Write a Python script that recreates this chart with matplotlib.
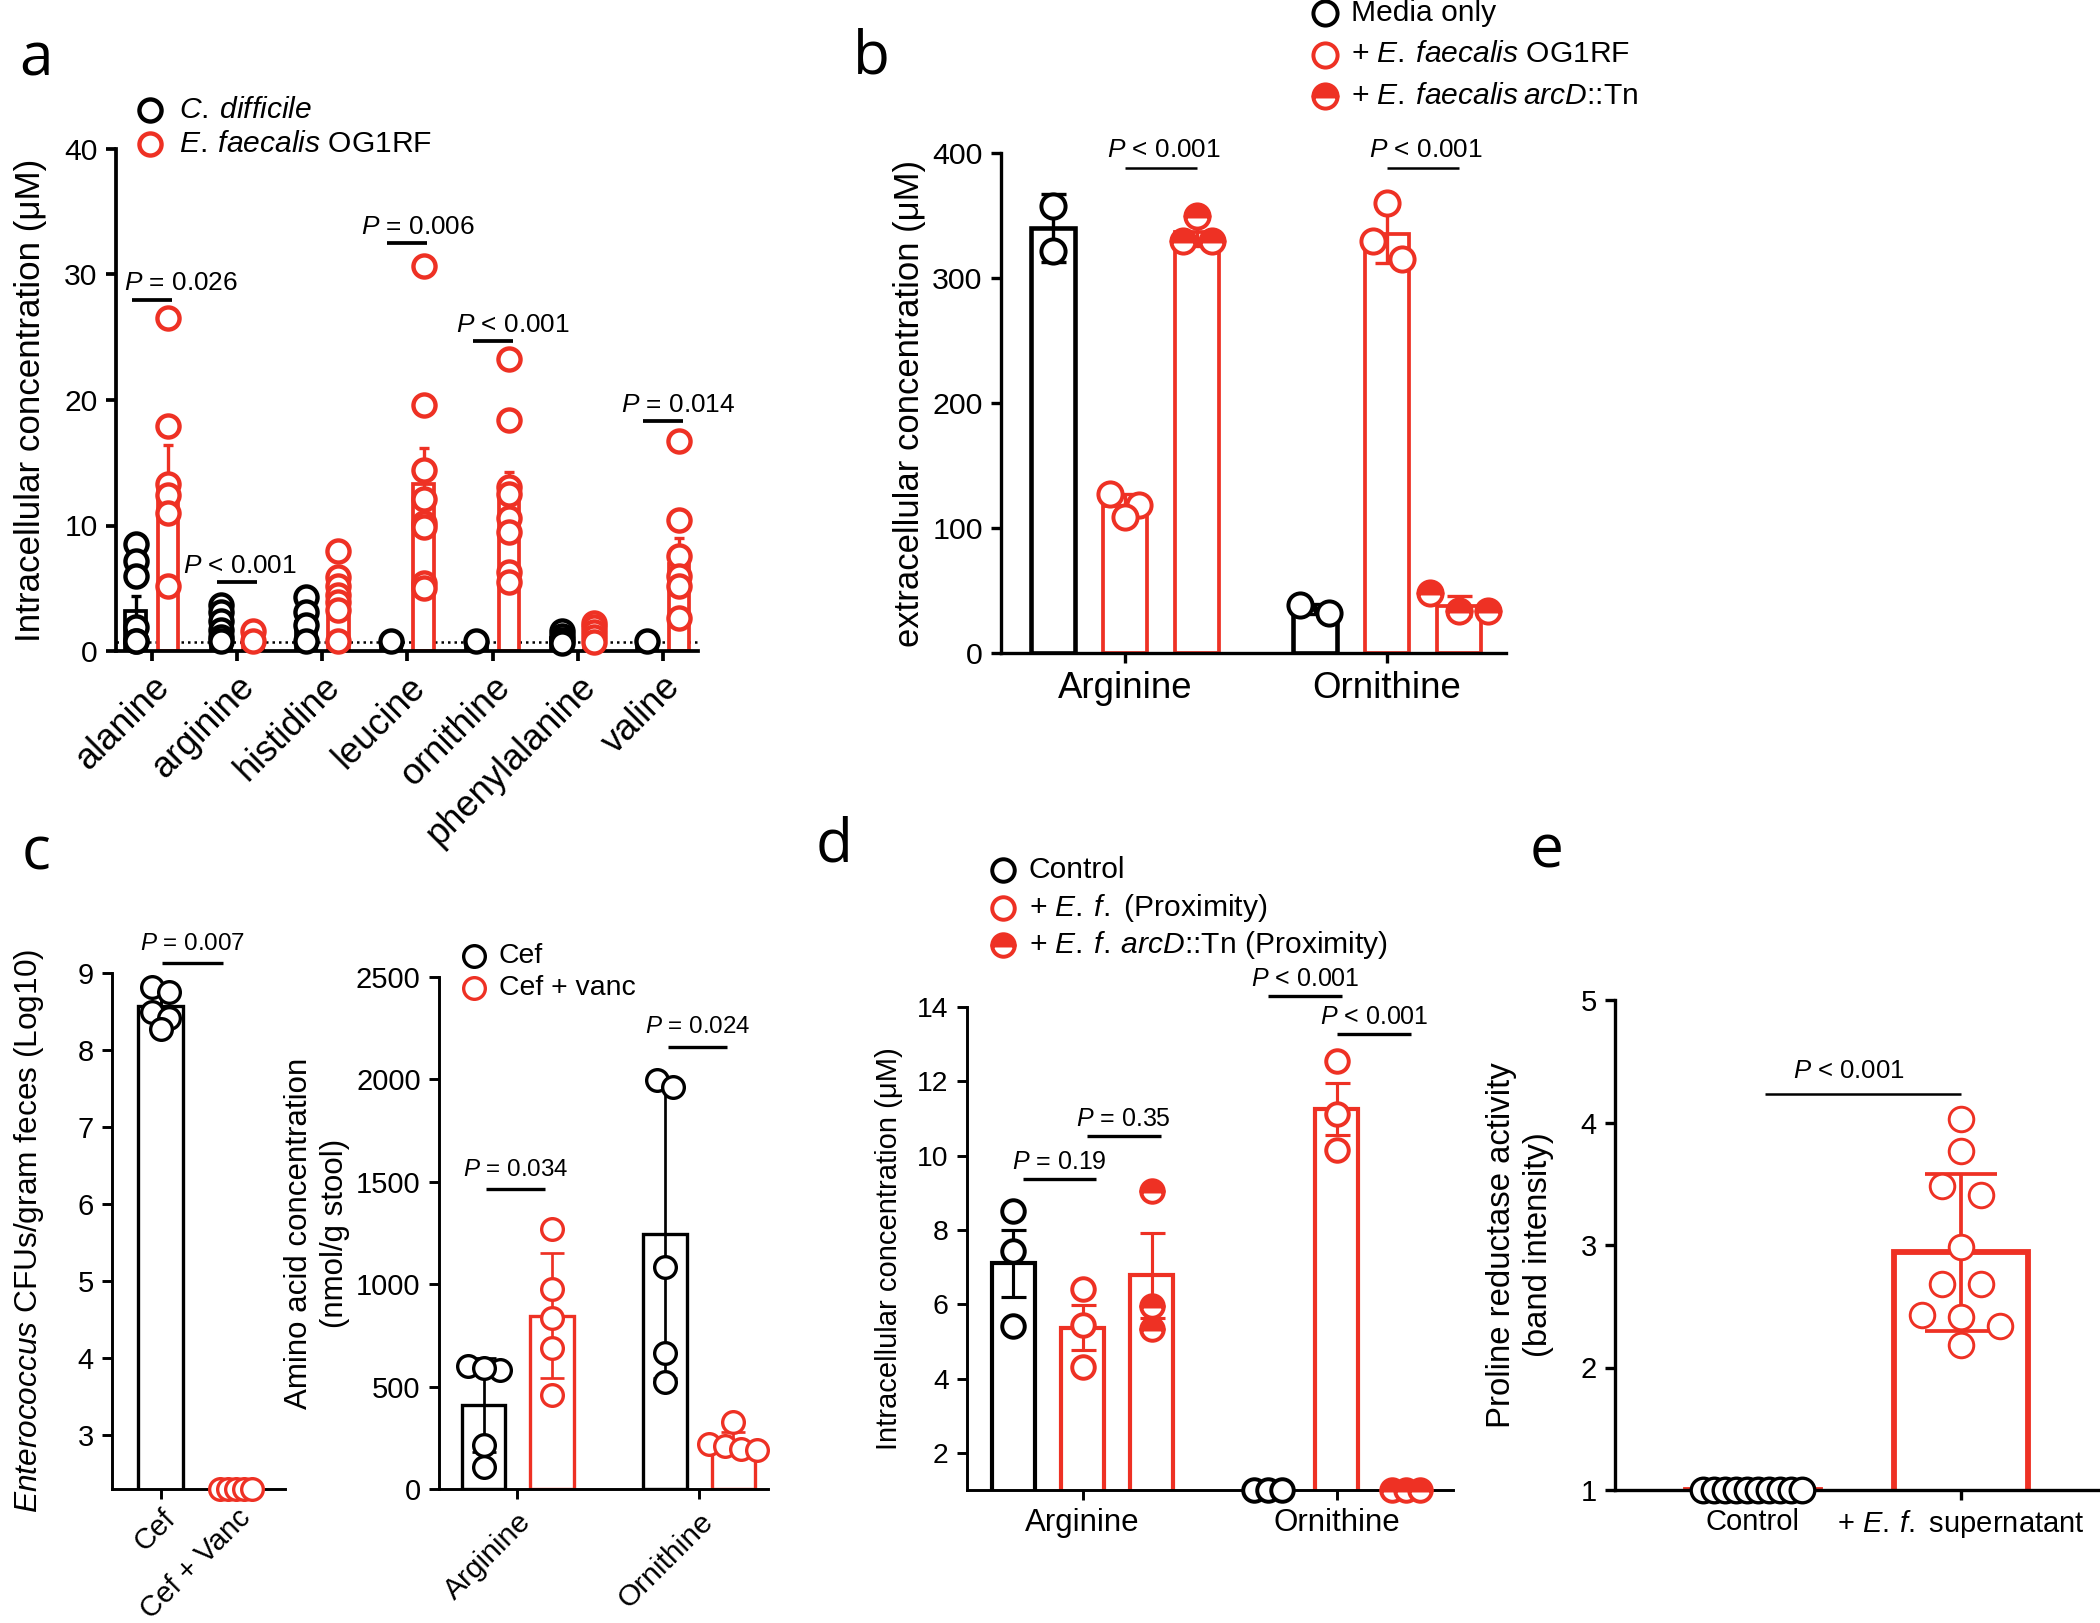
import numpy as np
import matplotlib
matplotlib.use("Agg")
import matplotlib.pyplot as plt
from matplotlib.lines import Line2D

plt.rcParams['font.family'] = 'Liberation Sans'
plt.rcParams['mathtext.fontset'] = 'custom'
plt.rcParams['mathtext.rm'] = 'Liberation Sans'
plt.rcParams['mathtext.it'] = 'Liberation Sans:italic'
plt.rcParams['mathtext.bf'] = 'Liberation Sans:bold'

RED = '#EE3124'

# ---- panel a: intracellular amino acids, C. difficile vs E. faecalis
AA_CATS = ['alanine', 'arginine', 'histidine', 'leucine', 'ornithine', 'phenylalanine', 'valine']
CD_PTS = [[8.5, 7.2, 6.0, 1.9, 0.8, 0.8], [3.7, 3.1, 2.4, 1.7, 1.1, 0.8], [4.3, 3.1, 2.1, 0.8],
          [0.8], [0.8], [1.6, 1.2, 0.9, 0.6], [0.8]]
CD_MEAN = [3.2, 2.2, 2.3, 0.8, 0.8, 1.0, 0.8]
CD_SEM = [1.2, 0.5, 0.7, 0.0, 0.0, 0.2, 0.0]
EF_PTS = [[26.5, 17.9, 13.3, 12.4, 11.0, 5.2], [1.6, 0.8], [8.0, 5.9, 5.2, 4.5, 3.9, 3.3, 0.8],
          [30.7, 19.6, 14.4, 12.1, 10.2, 9.9, 5.4, 5.0], [23.3, 18.4, 13.1, 12.5, 10.6, 9.5, 6.3, 5.5],
          [2.2, 1.9, 1.5, 1.1, 0.7], [16.7, 10.4, 7.6, 6.0, 5.2, 2.6]]
EF_MEAN = [13.5, 1.0, 4.5, 13.3, 12.3, 1.5, 6.9]
EF_SEM = [2.9, 0.4, 0.9, 2.9, 2.0, 0.3, 2.1]
A_LOD = 0.7
A_P_IDX = [0, 1, 3, 4, 6]
A_P_Y = [28.0, 5.5, 32.5, 24.7, 18.3]
A_P_TXT = ['= 0.026', '< 0.001', '= 0.006', '< 0.001', '= 0.014']

# ---- panel b: extracellular arginine / ornithine
B_CATS = ['Arginine', 'Ornithine']
B_MEDIA_PTS = [[358, 322], [31.7, 38.4]]
B_MEDIA_MEAN = [340, 35]
B_MEDIA_SD = [27, 4]
B_OG_PTS = [[127, 118.7, 108.8], [360, 330, 315]]
B_OG_MEAN = [118, 335]
B_OG_SD = [9, 23]
B_ARC_PTS = [[350, 330, 330], [48, 33.7, 33.7]]
B_ARC_MEAN = [337, 38]
B_ARC_SD = [11, 8]
B_P_Y = [388, 388]
B_P_TXT = ['< 0.001', '< 0.001']

# ---- panel c: stool CFUs and amino acids
C_CFU_CATS = ['Cef', 'Cef + Vanc']
C_CFU_PTS = [[8.82, 8.75, 8.50, 8.41, 8.27], [2.3, 2.3, 2.3, 2.3, 2.3]]
C_CFU_MEAN = [8.57, 2.3]
C_CFU_SD = [0.22, 0.0]
C_AA_CATS = ['Arginine', 'Ornithine']
C_CEF_PTS = [[600, 580, 590, 215, 105], [1998, 1962, 1083, 666, 523]]
C_CEF_MEAN = [410, 1245]
C_CEF_SD = [230, 703]
C_VANC_PTS = [[1270, 978, 837, 690, 458], [325, 219, 211, 195, 190]]
C_VANC_MEAN = [847, 228]
C_VANC_SD = [306, 48]
C_P_Y = [1465, 2160]
C_P_TXT = ['= 0.034', '= 0.024']

# ---- panel d: intracellular, proximity co-culture
D_CATS = ['Arginine', 'Ornithine']
D_CTRL_PTS = [[8.50, 7.43, 5.41], [1.0, 1.0, 1.0]]
D_CTRL_MEAN = [7.1, 1.0]
D_CTRL_SEM = [0.9, 0.0]
D_EF_PTS = [[6.41, 5.45, 4.31], [12.55, 11.11, 10.15]]
D_EF_MEAN = [5.37, 11.25]
D_EF_SEM = [0.6, 0.7]
D_ARC_PTS = [[9.06, 5.95, 5.34], [1.0, 1.0, 1.0]]
D_ARC_MEAN = [6.78, 1.0]
D_ARC_SEM = [1.15, 0.0]
# (group, x from, x to, y, text)
D_P = [(0, -0.236, 0.052, 9.37, '= 0.19'), (0, 0.016, 0.307, 10.54, '= 0.35'),
       (1, -0.271, 0.02, 14.30, '< 0.001'), (1, 0.0, 0.292, 13.28, '< 0.001')]

# ---- panel e: proline reductase activity
E_CATS = ['Control', r'+ $\mathit{E.\:f.}$ supernatant']
E_CTRL = [1.0, 1.0, 1.0, 1.0, 1.0, 1.0, 1.0, 1.0, 1.0, 1.0]
E_SUP = [4.03, 3.77, 3.48, 3.41, 2.98, 2.68, 2.68, 2.43, 2.41, 2.34, 2.18]
E_MEAN = [1.0, 2.94]
E_SD = [0.0, 0.64]
E_P_Y = 4.23

W, H = 2100, 1623
fig = plt.figure(figsize=(7, 5.41), dpi=300)


def px_axes(l, t, r, b):
    return fig.add_axes([l / W, 1 - b / H, (r - l) / W, (b - t) / H])


def style(ax, lw, fs):
    for s in ['top', 'right']:
        ax.spines[s].set_visible(False)
    for s in ['left', 'bottom']:
        ax.spines[s].set_linewidth(lw)
    ax.tick_params(direction='out', length=2.4, width=lw, labelsize=fs, pad=2)


def ylab(ax, text, x_px, fs, ls=1.25):
    bb = ax.get_position()
    fig.text(x_px / W, bb.y0 + bb.height / 2, text, rotation=90, ha='center', va='center',
             fontsize=fs, linespacing=ls)


def open_m(color, ms, mew):
    return dict(marker='o', ls='none', ms=ms, mfc='white', mec=color, mew=mew)


def half_m(ms, mew):
    return dict(marker='o', ls='none', ms=ms, mfc=RED, mfcalt='white', fillstyle='top',
                mec=RED, mew=mew)


def swarm_x(ax, x0, vals, step_px, min_px):
    vals = np.asarray(vals, float)
    ys = ax.transData.transform(np.column_stack([np.full(len(vals), x0), vals]))[:, 1]
    px0 = ax.transData.transform((x0, 0))[0]
    order = np.argsort(-ys, kind='stable')
    groups = []
    for i in order:
        if groups and abs(ys[groups[-1][0]] - ys[i]) < min_px:
            groups[-1].append(i)
        else:
            groups.append([i])
    xs = np.full(len(vals), float(x0))
    inv = ax.transData.inverted()
    for g in groups:
        n = len(g)
        for j, i in enumerate(g):
            xs[i] = inv.transform((px0 + (j - (n - 1) / 2) * step_px, ys[i]))[0]
    return xs


def pbar(ax, x1, x2, y, txt, fs, lw, gap=2.5, shift=0.0):
    ax.plot([x1, x2], [y, y], color='k', lw=lw, clip_on=False, solid_capstyle='butt')
    ax.annotate(r'$\mathit{P}$ ' + txt, xy=((x1 + x2) / 2 + shift, y), xytext=(0, gap),
                textcoords='offset points', ha='center', va='baseline', fontsize=fs,
                annotation_clip=False)


def legend_rows(x_px, y_px, dy_px, entries, fs, gap_px):
    for i, (label, kw) in enumerate(entries):
        y = 1 - (y_px + i * dy_px) / H
        fig.add_artist(Line2D([x_px / W], [y], transform=fig.transFigure, **kw))
        fig.text((x_px + gap_px) / W, y, label, fontsize=fs, ha='left', va='center')


def bars(ax, x, mean, err, width, color, lw, elw, cap):
    ax.bar(x, mean, width, facecolor='white', edgecolor=color, lw=lw, zorder=1)
    ax.errorbar(x, mean, yerr=err, fmt='none', ecolor=color, elinewidth=elw, capsize=cap,
                capthick=elw, zorder=2)


def letter(x_px, y_px, s):
    fig.text(x_px / W, 1 - y_px / H, s, fontsize=14.5, family='Open Sans', ha='center', va='center')


# ================= panel a =================
ax = px_axes(116, 149, 698, 651)
style(ax, 0.9, 7.2)
xa = np.arange(len(AA_CATS))
ax.set_xlim(-0.42, len(AA_CATS) - 0.59)
ax.set_ylim(0, 40)
ax.set_yticks([0, 10, 20, 30, 40])
off = 0.19
bars(ax, xa - off, CD_MEAN, CD_SEM, 0.24, 'k', 0.9, 0.8, 1.3)
bars(ax, xa + off, EF_MEAN, EF_SEM, 0.24, RED, 0.9, 0.8, 1.3)
ax.axhline(A_LOD, color='k', lw=0.6, ls=(0, (1, 1.6)), zorder=0.5)
mk_a = 5.3
for i in range(len(AA_CATS)):
    ax.plot(np.full(len(CD_PTS[i]), xa[i] - off), CD_PTS[i], zorder=3, clip_on=False,
            **open_m('k', mk_a, 1.05))
    ax.plot(np.full(len(EF_PTS[i]), xa[i] + off), EF_PTS[i], zorder=3, clip_on=False,
            **open_m(RED, mk_a, 1.05))
a_shift = [0.34, 0.03, 0.13, 0.24, 0.18]
for k, i in enumerate(A_P_IDX):
    pbar(ax, xa[i] - 0.235, xa[i] + 0.235, A_P_Y[k], A_P_TXT[k], 6.3, 0.9, gap=2.2, shift=a_shift[k])
ax.set_xticks(xa)
ax.set_xticklabels(AA_CATS, rotation=45, ha='right', rotation_mode='anchor', fontsize=8.7)
ylab(ax, 'Intracellular concentration (μM)', 31, 8.4)
legend_rows(150, 110, 34, [(r'$\mathit{C.\:difficile}$', open_m('k', mk_a, 1.05)),
                            (r'$\mathit{E.\:faecalis}$ OG1RF', open_m(RED, mk_a, 1.05))], 7.2, 29)
letter(36, 60, 'a')

# ================= panel b =================
ax = px_axes(1001, 153, 1506, 653)
style(ax, 0.8, 7.3)
xb = np.arange(len(B_CATS))
ax.set_xlim(-0.473, 1.454)
ax.set_ylim(0, 400)
ax.set_yticks([0, 100, 200, 300, 400])
ob = 0.275
mk_b = 5.8
bars(ax, xb - ob, B_MEDIA_MEAN, B_MEDIA_SD, 0.17, 'k', 1.1, 0.8, 3.0)
bars(ax, xb, B_OG_MEAN, B_OG_SD, 0.17, RED, 0.9, 0.8, 3.0)
bars(ax, xb + ob, B_ARC_MEAN, B_ARC_SD, 0.17, RED, 0.9, 0.8, 3.0)
for i in range(len(B_CATS)):
    ax.plot(swarm_x(ax, xb[i] - ob, B_MEDIA_PTS[i], 29, 21), B_MEDIA_PTS[i], zorder=3,
            clip_on=False, **open_m('k', mk_b, 0.95))
    ax.plot(swarm_x(ax, xb[i], B_OG_PTS[i], 29, 21), B_OG_PTS[i], zorder=3,
            clip_on=False, **open_m(RED, mk_b, 0.95))
    ax.plot(swarm_x(ax, xb[i] + ob, B_ARC_PTS[i], 29, 21), B_ARC_PTS[i], zorder=3,
            clip_on=False, **half_m(mk_b, 0.95))
    pbar(ax, xb[i], xb[i] + ob, B_P_Y[i], B_P_TXT[i], 6.3, 0.6, gap=2.6, shift=0.01)
ax.set_xticks(xb)
ax.set_xticklabels(B_CATS, fontsize=8.8)
ylab(ax, 'extracellular concentration (μM)', 909, 8.3)
legend_rows(1325, 13, 41.5, [('Media only', open_m('k', mk_b, 0.95)),
                             (r'+ $\mathit{E.\:faecalis}$ OG1RF', open_m(RED, mk_b, 0.95)),
                             (r'+ $\mathit{E.\:faecalis\:arcD}$::Tn', half_m(mk_b, 0.95))], 7.2, 26)
letter(871, 57, 'b')

# ================= panel c (left) =================
mk_c = 5.2
ax = px_axes(112, 973, 285, 1489)
style(ax, 0.7, 7.0)
xc = np.arange(len(C_CFU_CATS))
ax.set_xlim(-0.65, 1.65)
ax.set_ylim(2.3, 9)
ax.set_yticks([3, 4, 5, 6, 7, 8, 9])
ax.bar(xc[0], C_CFU_MEAN[0], 0.6, facecolor='white', edgecolor='k', lw=0.8, zorder=1)
ax.errorbar(xc[0], C_CFU_MEAN[0], yerr=C_CFU_SD[0], fmt='none', ecolor='k', elinewidth=0.7,
            capsize=2.5, capthick=0.7, zorder=2)
ax.plot(swarm_x(ax, xc[0], C_CFU_PTS[0], 17, 12), C_CFU_PTS[0], zorder=3, clip_on=False,
        **open_m('k', mk_c, 0.8))
ax.plot(swarm_x(ax, xc[1], C_CFU_PTS[1], 8, 12), C_CFU_PTS[1], zorder=3, clip_on=False,
        **open_m(RED, mk_c, 0.8))
pbar(ax, 0.01, 0.83, 9.13, '= 0.007', 5.8, 0.8, gap=3.2)
ax.set_xticks(xc)
ax.set_xticklabels(C_CFU_CATS, rotation=45, ha='right', rotation_mode='anchor', fontsize=7.0)
ax.tick_params(axis='x', pad=1.2)
ylab(ax, r'$\mathit{Enterococcus}$ CFUs/gram feces (Log10)', 29, 7.6)
letter(36, 853, 'c')

# ================= panel c (right) =================
ax = px_axes(439, 977, 768, 1489)
style(ax, 0.7, 7.0)
xr = np.arange(len(C_AA_CATS))
ax.set_xlim(-0.43, 1.38)
ax.set_ylim(0, 2500)
ax.set_yticks([0, 500, 1000, 1500, 2000, 2500])
bars(ax, xr - 0.185, C_CEF_MEAN, C_CEF_SD, 0.24, 'k', 0.8, 0.65, 2.8)
bars(ax, xr + 0.19, C_VANC_MEAN, C_VANC_SD, 0.24, RED, 0.8, 0.65, 2.8)
for i in range(len(C_AA_CATS)):
    ax.plot(swarm_x(ax, xr[i] - 0.185, C_CEF_PTS[i], 16, 14), C_CEF_PTS[i], zorder=3,
            clip_on=False, **open_m('k', mk_c, 0.8))
    ax.plot(swarm_x(ax, xr[i] + 0.19, C_VANC_PTS[i], 16, 14), C_VANC_PTS[i], zorder=3,
            clip_on=False, **open_m(RED, mk_c, 0.8))
    pbar(ax, xr[i] - 0.17, xr[i] + 0.155, C_P_Y[i], C_P_TXT[i], 5.8, 0.8, gap=3.2)
ax.set_xticks(xr)
ax.set_xticklabels(C_AA_CATS, rotation=45, ha='right', rotation_mode='anchor', fontsize=7.2)
ylab(ax, 'Amino acid concentration\n(nmol/g stool)', 317, 7.5)
legend_rows(474, 956, 32, [('Cef', open_m('k', mk_c, 0.8)),
                           ('Cef + vanc', open_m(RED, mk_c, 0.8))], 6.8, 25)

# ================= panel d =================
mk_d = 5.4
ax = px_axes(967, 1007, 1453, 1490)
style(ax, 0.7, 6.8)
xd = np.arange(len(D_CATS))
ax.set_xlim(-0.455, 1.458)
ax.set_ylim(1, 14)
ax.set_yticks([2, 4, 6, 8, 10, 12, 14])
od = 0.272
bars(ax, xd - od, D_CTRL_MEAN, D_CTRL_SEM, 0.17, 'k', 1.0, 0.75, 3.0)
bars(ax, xd, D_EF_MEAN, D_EF_SEM, 0.17, RED, 1.0, 0.75, 3.0)
bars(ax, xd + od, D_ARC_MEAN, D_ARC_SEM, 0.17, RED, 1.0, 0.75, 3.0)
for i in range(len(D_CATS)):
    ax.plot(swarm_x(ax, xd[i] - od, D_CTRL_PTS[i], 14, 12), D_CTRL_PTS[i], zorder=3,
            clip_on=False, **open_m('k', mk_d, 0.95))
    ax.plot(swarm_x(ax, xd[i], D_EF_PTS[i], 14, 12), D_EF_PTS[i], zorder=3,
            clip_on=False, **open_m(RED, mk_d, 0.95))
    ax.plot(swarm_x(ax, xd[i] + od, D_ARC_PTS[i], 14, 12), D_ARC_PTS[i], zorder=3,
            clip_on=False, **half_m(mk_d, 0.95))
for g, x1, x2, y, t in D_P:
    pbar(ax, xd[g] + x1, xd[g] + x2, y, t, 6.0, 0.8, gap=2.4)
ax.set_xticks(xd)
ax.set_xticklabels(D_CATS, fontsize=7.5)
ylab(ax, 'Intracellular concentration (μM)', 889, 7.0)
legend_rows(1003, 870, 37.5, [('Control', open_m('k', mk_d, 0.95)),
                              (r'+ $\mathit{E.\:f.}$ (Proximity)', open_m(RED, mk_d, 0.95)),
                              (r'+ $\mathit{E.\:f.\:arcD}$::Tn (Proximity)', half_m(mk_d, 0.95))],
            7.2, 26)
letter(834, 845, 'd')

# ================= panel e =================
mk_e = 5.9
ax = px_axes(1615, 1000, 2100, 1490)
style(ax, 0.8, 7.0)
xe = np.arange(len(E_CATS))
ax.set_xlim(-0.663, 1.668)
ax.set_ylim(1, 5)
ax.set_yticks([1, 2, 3, 4, 5])
ax.bar(xe, E_MEAN, 0.645, facecolor='white', edgecolor=RED, lw=1.4, zorder=1)
ax.errorbar(xe[1], E_MEAN[1], yerr=E_SD[1], fmt='none', ecolor=RED, elinewidth=0.9,
            capsize=8.6, capthick=0.9, zorder=2)
ax.plot(swarm_x(ax, xe[0], E_CTRL, 11, 10), E_CTRL, zorder=3, clip_on=False,
        **open_m('k', mk_e, 0.8))
ax.plot(swarm_x(ax, xe[1], E_SUP, 39, 22), E_SUP, zorder=3, clip_on=False,
        **open_m(RED, mk_e, 0.7))
pbar(ax, 0.06, 1.0, E_P_Y, '< 0.001', 6.2, 0.6, gap=3.8, shift=-0.07)
ax.set_xticks(xe)
ax.set_xticklabels(E_CATS, fontsize=7.0)
ylab(ax, 'Proline reductase activity\n(band intensity)', 1520, 7.9)
letter(1547, 851, 'e')

fig.savefig('out.png', dpi=300)
